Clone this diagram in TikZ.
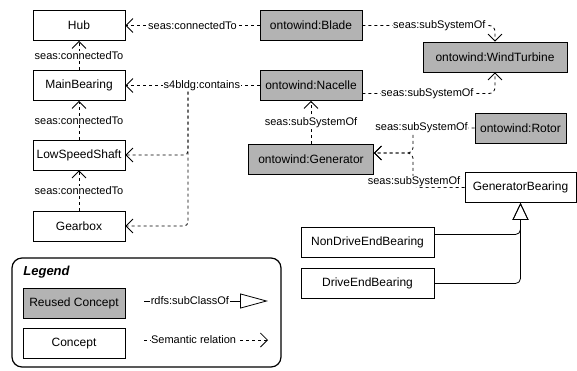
\documentclass[tikz,border=0pt]{standalone}
\usepackage{fontspec}
\setmainfont{Liberation Sans}
\usetikzlibrary{arrows.meta}
\definecolor{reusedgray}{RGB}{179,179,179}

\begin{document}
\begin{tikzpicture}[x=1pt, y=-1pt, line width=0.8pt,
    concept/.style={draw, inner sep=0pt, minimum height=30pt, font=\fontsize{12}{14}\selectfont},
    reused/.style={concept, fill=reusedgray},
    rel/.style={dash pattern=on 3pt off 3pt, -{Straight Barb[length=7pt, width=14pt]}},
    subcls/.style={-{Triangle[open, length=17pt, width=16pt]}},
    lbl/.style={fill=white, inner sep=0.5pt, font=\fontsize{11}{13}\selectfont}]
  \useasboundingbox (0,0) rectangle (577,370);
  % Concepts of the drive train
  \node[concept, minimum width=92pt] (hub) at (79,25.5) {Hub};
  \node[concept, minimum width=92pt] (mainbearing) at (79,85.5) {MainBearing};
  \node[concept, minimum width=92pt] (lowspeed) at (79,155) {LowSpeedShaft};
  \node[concept, minimum width=92pt] (gearbox) at (79,226) {Gearbox};
  % Reused concepts
  \node[reused, minimum width=102pt] (blade) at (311,25.5) {ontowind:Blade};
  \node[reused, minimum width=102pt] (nacelle) at (311,85.5) {ontowind:Nacelle};
  \node[reused, minimum width=144pt] (turbine) at (495,57) {ontowind:WindTurbine};
  \node[reused, minimum width=91pt] (rotor) at (520.5,128) {ontowind:Rotor};
  \node[reused, minimum width=125pt] (generator) at (311,159.5) {ontowind:Generator};
  % Generator bearings
  \node[concept, minimum width=111pt] (genbearing) at (520.5,187.5) {GeneratorBearing};
  \node[concept, minimum width=133pt] (nondrive) at (367.5,242.5) {NonDriveEndBearing};
  \node[concept, minimum width=133pt] (drive) at (367.5,283.5) {DriveEndBearing};

  \draw[rel] (blade) -- node[lbl]{seas:connectedTo} (hub);
  \draw[rel] (mainbearing) -- node[lbl]{seas:connectedTo} (hub);
  \draw[rel] (lowspeed) -- node[lbl]{seas:connectedTo} (mainbearing);
  \draw[rel] (gearbox) -- node[lbl]{seas:connectedTo} (lowspeed);
  % Branch of s4bldg:contains down to shaft and gearbox.
  \coordinate (branch) at (188,85.5);
  \draw[rel, rounded corners=4pt] (branch) |- (lowspeed);
  \draw[rel, rounded corners=4pt] (branch) |- (gearbox);
  \draw[rel] (nacelle) -- node[lbl, pos=0.43]{s4bldg:contains} (mainbearing);

  \draw[rel, rounded corners=6pt] (blade) -| node[lbl, pos=0.29]{seas:subSystemOf} (turbine);
  \draw[rel, rounded corners=6pt] ([yshift=-8pt]nacelle.east) -| node[lbl, pos=0.245]{seas:subSystemOf} (turbine);
  \draw[rel] (generator) -- node[lbl]{seas:subSystemOf} (nacelle);
  % Rotor and bearing join before the generator.
  \coordinate (merge) at (413,153);
  \draw[rel, rounded corners=5pt] (rotor) -| node[lbl, pos=0.43]{seas:subSystemOf} (merge) -- (generator.east |- merge);
  \draw[rel, rounded corners=5pt] (genbearing) -| node[lbl, pos=0.49, yshift=6pt]{seas:subSystemOf} (merge) -- (generator.east |- merge);
  \draw[subcls, rounded corners=5pt] ([yshift=8pt]nondrive.east) -| (genbearing);
  \draw[subcls, rounded corners=5pt] (drive) -| (genbearing);

  % Legend
  \node[draw, line width=1.2pt, rounded corners=10pt, minimum width=269pt, minimum height=109pt] (legend) at (146.5,312.5) {};
  \node[anchor=west, inner sep=0pt, font=\fontsize{13}{15}\selectfont\bfseries\itshape] (legendtitle) at (23,272) {Legend};
  \node[reused, minimum width=102pt] (legreused) at (74,303) {Reused Concept};
  \node[concept, minimum width=102pt] (legconcept) at (74,343.5) {Concept};
  \coordinate (subA) at (144,301);
  \coordinate (subB) at (268,301);
  \coordinate (relA) at (144,340);
  \coordinate (relB) at (268,340);
  \draw[-{Triangle[open, length=28pt, width=15pt]}] (subA) -- node[lbl, pos=0.37]{rdfs:subClassOf} (subB);
  \draw[rel] (relA) -- node[lbl, pos=0.4]{Semantic relation} (relB);
\end{tikzpicture}
\end{document}
